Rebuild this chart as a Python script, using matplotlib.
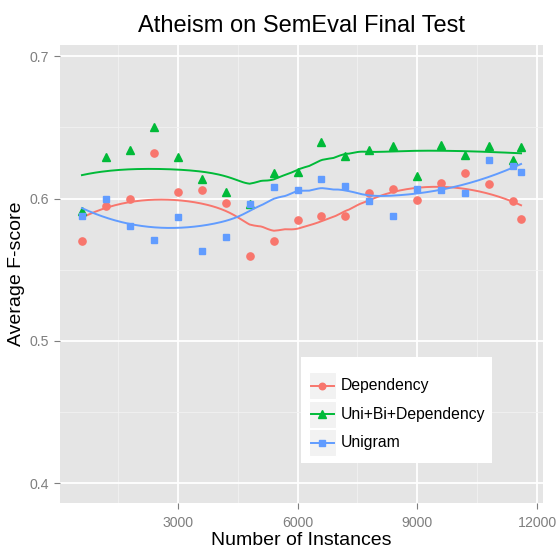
import numpy as np
import matplotlib.pyplot as plt
from matplotlib.patches import Rectangle
from matplotlib.lines import Line2D

plt.rcParams['font.family'] = ['Liberation Sans', 'DejaVu Sans']

instances = [600, 1200, 1800, 2400, 3000, 3600, 4200, 4800, 5400, 6000,
             6600, 7200, 7800, 8400, 9000, 9600, 10200, 10800, 11400, 11600]
dependency = [0.570, 0.595, 0.600, 0.632, 0.605, 0.606, 0.597, 0.560, 0.570, 0.585,
              0.588, 0.588, 0.604, 0.607, 0.599, 0.611, 0.618, 0.610, 0.598, 0.586]
uni_bi_dep = [0.591, 0.629, 0.634, 0.650, 0.629, 0.614, 0.605, 0.596, 0.618, 0.619,
              0.640, 0.630, 0.634, 0.637, 0.616, 0.638, 0.631, 0.637, 0.627, 0.636]
unigram = [0.588, 0.600, 0.581, 0.571, 0.587, 0.563, 0.573, 0.596, 0.608, 0.606,
           0.614, 0.609, 0.598, 0.588, 0.607, 0.606, 0.604, 0.627, 0.623, 0.619]

series = [("Dependency", dependency, "#F8766D", "o", 5.2),
          ("Uni+Bi+Dependency", uni_bi_dep, "#00BA38", "^", 6.0),
          ("Unigram", unigram, "#619CFF", "s", 5.0)]


def loess(x, y, xs, span=0.75):
    # local quadratic fit with tricube weights, like R's loess default
    x = np.asarray(x, float)
    y = np.asarray(y, float)
    n = len(x)
    q = int(np.floor(span * n))
    out = []
    for x0 in xs:
        d = np.abs(x - x0)
        h = np.sort(d)[q - 1]
        w = np.clip(1 - (d / h) ** 3, 0, None) ** 3
        X = np.vstack([np.ones(n), x - x0, (x - x0) ** 2]).T
        W = np.diag(w)
        beta = np.linalg.lstsq(X.T @ W @ X, X.T @ W @ y, rcond=None)[0]
        out.append(beta[0])
    return np.array(out)


fig = plt.figure(figsize=(5.56, 5.52), dpi=100)
W, H = 556, 552
ax = fig.add_axes([60 / W, 1 - 503 / H, (543 - 60) / W, (503 - 45) / H])
ax.set_facecolor("#E5E5E5")
for s in ax.spines.values():
    s.set_visible(False)

ax.set_xlim(50, 12150)
ax.set_ylim(0.386, 0.708)
ax.set_xticks([3000, 6000, 9000, 12000])
ax.set_yticks([0.4, 0.5, 0.6, 0.7])
ax.set_xticks([1500, 4500, 7500, 10500], minor=True)
ax.set_yticks([0.45, 0.55, 0.65], minor=True)
ax.grid(which="major", color="white", linewidth=1.3)
ax.grid(which="minor", color="#F2F2F2", linewidth=0.6)
ax.set_axisbelow(True)
ax.tick_params(which="major", length=4.5, color="#7F7F7F", labelcolor="#7F7F7F", labelsize=10.2)
ax.tick_params(axis="x", pad=5)
ax.tick_params(which="minor", length=0)

xs = np.linspace(min(instances), max(instances), 200)
for name, vals, col, mk, ms in series:
    ax.plot(instances, vals, linestyle="none", marker=mk, color=col, markersize=ms)
    ax.plot(xs, loess(instances, vals, xs), color=col, linewidth=1.4)

ax.set_title("Atheism on SemEval Final Test", fontsize=17, pad=9)
ax.set_xlabel("Number of Instances", fontsize=14, labelpad=1)
ax.set_ylabel("Average F-score", fontsize=14, labelpad=3)

# legend drawn by hand to get ggplot-style key boxes
tf = fig.transFigure
fig.patches.append(Rectangle((301 / W, 1 - 463 / H), 191 / W, 106 / H,
                             transform=tf, facecolor="white", edgecolor="none", zorder=5))
rows = [372, 400.5, 429]
for (name, vals, col, mk, ms), top in zip(series, rows):
    fig.patches.append(Rectangle((309 / W, 1 - (top + 27) / H), 27 / W, 27 / H,
                                 transform=tf, facecolor="#F2F2F2", edgecolor="white",
                                 linewidth=0.8, zorder=6))
    yc = 1 - (top + 13.5) / H
    fig.lines.append(Line2D([311 / W, 334 / W], [yc, yc], transform=tf, color=col,
                            linewidth=1.4, zorder=7))
    fig.lines.append(Line2D([322.5 / W], [yc], transform=tf, color=col, marker=mk,
                            markersize=ms - 0.5, linestyle="none", zorder=8))
    fig.text(341 / W, yc, name, fontsize=11.3, va="center", ha="left", zorder=9)

fig.savefig("out.png", dpi=100)
